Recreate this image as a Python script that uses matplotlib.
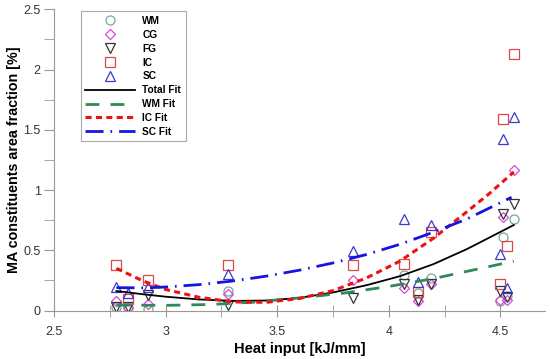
import numpy as np
import matplotlib.pyplot as plt

plt.rcParams['font.family'] = ['Liberation Sans', 'DejaVu Sans']

# heat input positions of the samples [kJ/mm]
heat = [2.78, 2.83, 2.92, 3.28, 3.84, 4.07, 4.13, 4.19, 4.50, 4.51, 4.53, 4.56]

# MA area fraction [%] per zone
wm = [0.03, 0.03, 0.012, 0.16, np.nan, 0.293, 0.144, 0.268, 0.075, 0.609, 0.12, 0.76]
cg = [0.083, 0.02, 0.055, 0.14, 0.25, 0.183, 0.08, 0.218, 0.089, 0.775, 0.089, 1.167]
fg = [0.03, 0.03, 0.13, 0.045, 0.105, 0.224, 0.088, 0.224, 0.166, 0.80, 0.111, 0.885]
ic = [0.378, 0.097, 0.255, 0.375, 0.375, 0.387, 0.15, 0.655, 0.22, 1.587, 0.539, 2.126]
sc = [0.192, 0.146, 0.194, 0.30, 0.498, 0.763, 0.24, 0.71, 0.467, 1.424, 0.186, 1.609]

# fit curves
total_x = [2.78, 2.9, 3.0, 3.15, 3.3, 3.45, 3.6, 3.75, 3.9, 4.05, 4.2, 4.35, 4.45, 4.56]
total_y = [0.162, 0.135, 0.115, 0.092, 0.08, 0.083, 0.105, 0.15, 0.21, 0.285, 0.385, 0.51, 0.605, 0.71]

wmfit_x = [2.78, 3.0, 3.2, 3.4, 3.6, 3.8, 4.0, 4.2, 4.4, 4.56]
wmfit_y = [0.045, 0.043, 0.05, 0.07, 0.105, 0.145, 0.2, 0.265, 0.345, 0.41]

icfit_x = [2.78, 2.9, 3.0, 3.15, 3.3, 3.45, 3.6, 3.75, 3.9, 4.05, 4.2, 4.35, 4.45, 4.56]
icfit_y = [0.35, 0.245, 0.175, 0.11, 0.072, 0.068, 0.1, 0.165, 0.27, 0.41, 0.6, 0.82, 0.97, 1.15]

scfit_x = [2.78, 2.9, 3.0, 3.15, 3.3, 3.45, 3.6, 3.75, 3.9, 4.05, 4.2, 4.35, 4.45, 4.55]
scfit_y = [0.19, 0.188, 0.195, 0.215, 0.245, 0.285, 0.335, 0.395, 0.465, 0.55, 0.65, 0.76, 0.85, 0.94]

fig = plt.figure(figsize=(5.5, 3.59), dpi=100)
ax = fig.add_axes([0.098, 0.135, 0.893, 0.839])

mk = dict(linestyle='none', markerfacecolor='none', markersize=6.5, markeredgewidth=0.9)
ax.plot(heat, wm, marker='o', color='#79a894', label='WM', **mk)
ax.plot(heat, cg, marker='D', color='#dd44dd', label='CG', markersize=5.2,
        linestyle='none', markerfacecolor='none', markeredgewidth=0.9)
ax.plot(heat, fg, marker='v', color='#333333', label='FG', **mk)
ax.plot(heat, ic, marker='s', color='#d9484a', label='IC', **mk)
ax.plot(heat, sc, marker='^', color='#3a3ac8', label='SC', **mk)

ax.plot(total_x, total_y, color='black', lw=1.3, label='Total Fit')
ax.plot(wmfit_x, wmfit_y, color='#2e8b57', lw=2, dashes=(5, 4), label='WM Fit')
ax.plot(icfit_x, icfit_y, color='#ee1111', lw=2.2, dashes=(2, 1.4), label='IC Fit')
ax.plot(scfit_x, scfit_y, color='#1515e0', lw=2, dashes=(6.5, 2.5, 0.6, 2.5), label='SC Fit')

ax.set_xlim(2.5, 4.7)
ax.set_ylim(0, 2.5)
ax.set_xticks([2.5, 3, 3.5, 4, 4.5])
ax.set_xticklabels(['2.5', '3', '3.5', '4', '4.5'])
ax.set_xticks(np.arange(2.75, 4.7, 0.5), minor=True)
ax.set_yticks([0, 0.5, 1, 1.5, 2, 2.5])
ax.set_yticklabels(['0', '0.5', '1', '1.5', '2', '2.5'])
ax.set_yticks(np.arange(0.25, 2.5, 0.5), minor=True)

for s in ['top', 'right']:
    ax.spines[s].set_visible(False)
for s in ['left', 'bottom']:
    ax.spines[s].set_color('#999999')
    ax.spines[s].set_linewidth(0.8)

ax.tick_params(axis='x', which='both', direction='inout', length=8, color='#999999',
               labelsize=9, labelcolor='#333333', pad=7)
ax.tick_params(axis='y', which='both', direction='out', length=7, color='#999999',
               labelsize=9, labelcolor='#333333', pad=2.5)

ax.set_xlabel('Heat input [kJ/mm]', fontsize=10.5, fontweight='bold', labelpad=3)
ax.set_ylabel('MA constituents area fraction [%]', fontsize=10.3, fontweight='bold', labelpad=2)

leg = ax.legend(loc='upper left', bbox_to_anchor=(0.055, 0.993),
                prop={'weight': 'bold', 'size': 7.3}, handlelength=4.9, handletextpad=0.7,
                labelspacing=0.38, borderpad=0.45, borderaxespad=0, fancybox=False, framealpha=1)
leg.get_frame().set_edgecolor('#aaaaaa')
leg.get_frame().set_linewidth(0.8)

fig.savefig('out.png', dpi=100)
